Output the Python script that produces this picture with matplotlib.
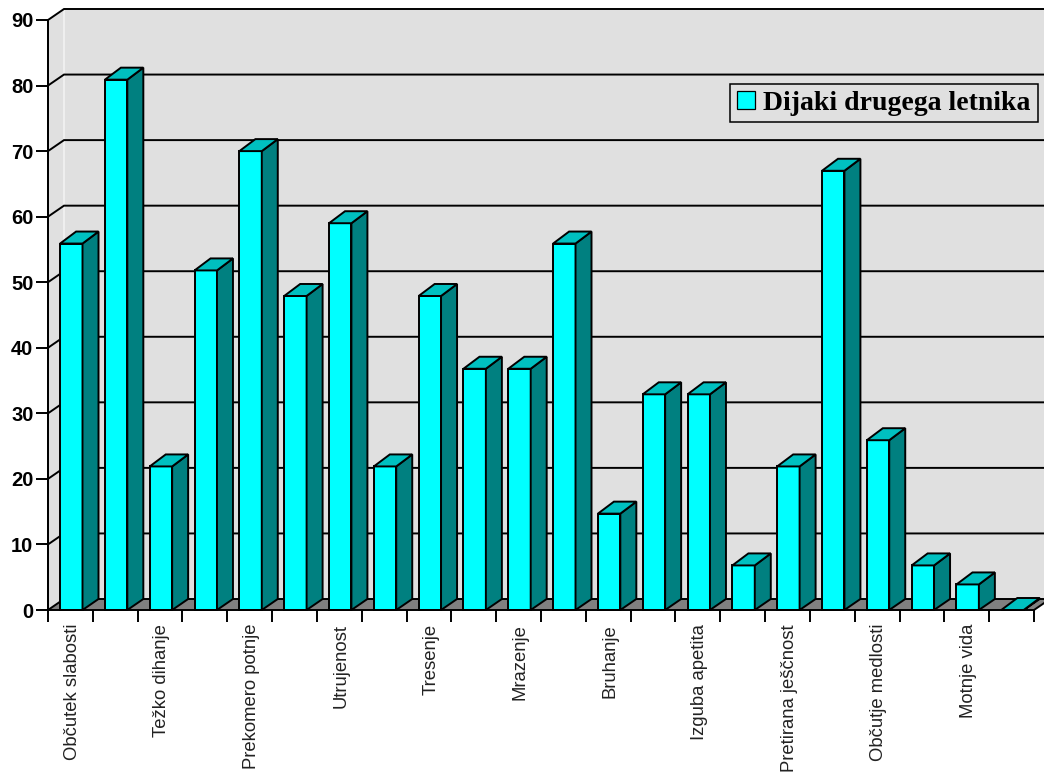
import matplotlib
matplotlib.use('Agg')
import matplotlib.pyplot as plt
from matplotlib.patches import Polygon, Patch

# Vrednosti odčitane s slike
kategorije = ['Občutek slabosti', '', 'Težko dihanje', '', 'Prekomero potnje', '',
              'Utrujenost', '', 'Tresenje', '', 'Mrazenje', '', 'Bruhanje', '',
              'Izguba apetita', '', 'Pretirana ješčnost', '', 'Občutje medlosti', '',
              'Motnje vida', '']
vrednosti = [55.9, 80.9, 21.9, 51.8, 70, 47.9, 59, 21.9, 47.9, 36.8, 36.8,
             55.9, 14.7, 32.9, 32.9, 6.8, 21.9, 67, 25.9, 6.8, 3.9, 0]
y_oznake = [0, 10, 20, 30, 40, 50, 60, 70, 80, 90]
legenda = 'Dijaki drugega letnika'

n = len(vrednosti)
dx = 16 / 44.82       # globina 3D v enotah kategorij
dy = 11 / 6.555       # globina sten v enotah vrednosti
dy_stolpec = 12 / 6.555
sirina = 0.5
lw = 1.4

fig = plt.figure(figsize=(10.44, 7.75), dpi=100)
ax = fig.add_axes([48 / 1044, 165 / 775, 986 / 1044, 590 / 775])
ax.set_xlim(0, n)
ax.set_ylim(0, 90)
ax.patch.set_visible(False)

# Stene in tla
ax.add_patch(Polygon([(0, 0), (dx, dy), (n + dx, dy), (n + dx, 90 + dy), (0 + dx, 90 + dy), (0, 90)],
                     closed=True, fc='#E0E0E0', ec='none', clip_on=False, zorder=1))
ax.add_patch(Polygon([(0, 0), (dx, dy), (n + dx, dy), (n, 0)],
                     closed=True, fc='#808080', ec='none', clip_on=False, zorder=1))
ax.plot([dx, dx], [dy, 90 + dy], color='#F4F4F4', lw=1.1, clip_on=False, zorder=1.5)

# Mreža
for v in y_oznake:
    ax.plot([0, dx, n + dx], [v, v + dy, v + dy], color='black', lw=lw,
            clip_on=False, zorder=2, solid_joinstyle='miter')
ax.plot([n, n + dx], [0, dy], color='black', lw=lw, clip_on=False, zorder=2)
ax.plot([0, 0], [0, 90], color='black', lw=lw, clip_on=False, zorder=2)

# Stolpci
for i, v in enumerate(vrednosti):
    x0 = i + 0.52 - sirina / 2
    x1 = x0 + sirina
    z = 3 + i * 0.01
    ax.bar(x0, v, width=sirina, align='edge', color='#00FFFF', edgecolor='black',
           linewidth=lw, zorder=z, clip_on=False)
    ax.add_patch(Polygon([(x1, 0), (x1 + dx, dy), (x1 + dx, v + dy_stolpec), (x1, v)],
                         closed=True, fc='#008080', ec='black', lw=lw, clip_on=False, zorder=z))
    ax.add_patch(Polygon([(x0, v), (x0 + dx, v + dy_stolpec), (x1 + dx, v + dy_stolpec), (x1, v)],
                         closed=True, fc='#00C0C0', ec='black', lw=lw, clip_on=False, zorder=z))

# Osi
for s in ['top', 'right']:
    ax.spines[s].set_visible(False)
for s in ['left', 'bottom']:
    ax.spines[s].set_linewidth(lw)
    ax.spines[s].set_zorder(5)

ax.set_yticks(y_oznake)
ax.set_yticklabels(y_oznake, fontsize=14.5, fontweight='bold', family='Liberation Sans')
ax.tick_params(axis='y', length=8.5, width=lw, pad=2)

ax.set_xticks(range(n + 1))
ax.set_xticklabels([])
ax.set_xticks([i + 0.54 for i in range(n)], minor=True)
ax.set_xticklabels(kategorije, minor=True, rotation=90, fontsize=13.3, family='Liberation Sans',
                   color='#222222', va='top', ha='center')
ax.tick_params(axis='x', which='major', length=8.5, width=lw)
ax.tick_params(axis='x', which='minor', length=0, pad=10)

# Legenda
leg = ax.legend(handles=[Patch(fc='#00FFFF', ec='black', lw=0.9, label=legenda)],
                loc='center', bbox_to_anchor=((884 - 48) / 986, (610 - 103) / 590),
                prop={'family': 'Liberation Serif', 'weight': 'bold', 'size': 20},
                fancybox=False, framealpha=1, facecolor='#E0E0E0', edgecolor='black',
                handlelength=0.63, handleheight=0.63, handletextpad=0.3, borderpad=0.25,
                borderaxespad=0)
leg.get_frame().set_linewidth(1.1)
leg.set_zorder(10)

fig.savefig('out.png', dpi=100, facecolor='white')
